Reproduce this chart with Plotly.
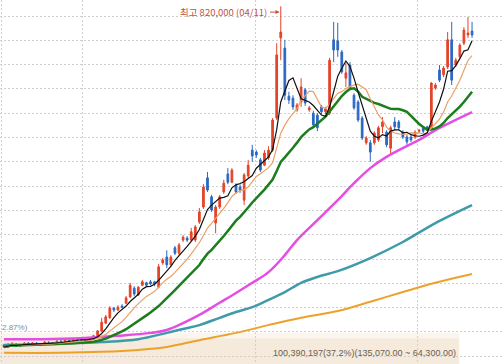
import plotly.graph_objects as go
import pandas as pd

# ---- daily candles (won), oldest -> newest ----
open_ = [123000, 119000, 123000, 125000, 121000, 123000, 127000, 125000, 127000, 123000,
         125000, 127000, 125000, 127000, 131000, 129000, 133000, 131000, 135000, 133000,
         135000, 133000, 137000, 142000, 152000, 168000, 179000, 199000, 195000, 203000,
         209000, 222000, 240000, 226000, 246000, 251000, 253000, 253000, 242000, 292000,
         304000, 288000, 323000, 312000, 339000, 343000, 339000, 339000, 376000, 407000,
         467000, 428000, 374000, 407000, 438000, 475000, 458000, 452000, 448000, 421000,
         471000, 524000, 520000, 504000, 493000, 508000, 524000, 590000, 755000, 734000,
         635000, 631000, 607000, 623000, 648000, 607000, 600000, 596000, 613000, 603000,
         600000, 751000, 749000, 726000, 672000, 699000, 637000, 623000, 590000, 539000,
         539000, 539000, 545000, 572000, 561000, 528000, 582000, 582000, 561000, 551000,
         551000, 551000, 563000, 570000, 572000, 570000, 652000, 689000, 679000, 695000,
         751000, 699000, 716000, 744000, 761000, 769000]
high = [125000, 127000, 129000, 127000, 125000, 129000, 129000, 129000, 129000, 127000,
        131000, 131000, 129000, 133000, 133000, 137000, 135000, 137000, 137000, 137000,
        137000, 139000, 144000, 154000, 179000, 185000, 203000, 201000, 205000, 207000,
        224000, 251000, 244000, 244000, 257000, 253000, 257000, 255000, 290000, 302000,
        318000, 308000, 327000, 333000, 349000, 347000, 364000, 370000, 405000, 454000,
        479000, 432000, 411000, 432000, 463000, 487000, 487000, 456000, 454000, 477000,
        504000, 535000, 524000, 508000, 524000, 532000, 590000, 744000, 820000, 751000,
        644000, 637000, 621000, 672000, 652000, 615000, 605000, 600000, 617000, 613000,
        714000, 788000, 786000, 730000, 703000, 705000, 641000, 627000, 594000, 553000,
        545000, 563000, 574000, 592000, 565000, 574000, 592000, 586000, 565000, 555000,
        555000, 565000, 567000, 572000, 574000, 664000, 662000, 699000, 697000, 767000,
        788000, 714000, 744000, 777000, 798000, 788000]
low = [117000, 117000, 121000, 119000, 119000, 121000, 123000, 121000, 121000, 121000,
       123000, 123000, 123000, 125000, 127000, 127000, 129000, 129000, 131000, 131000,
       131000, 131000, 135000, 140000, 150000, 166000, 177000, 191000, 193000, 199000,
       207000, 220000, 224000, 224000, 244000, 242000, 246000, 244000, 240000, 288000,
       281000, 286000, 308000, 308000, 335000, 335000, 337000, 335000, 372000, 403000,
       438000, 397000, 353000, 403000, 434000, 454000, 456000, 434000, 436000, 411000,
       467000, 500000, 508000, 479000, 491000, 504000, 520000, 586000, 709000, 627000,
       619000, 607000, 603000, 613000, 615000, 603000, 570000, 563000, 598000, 598000,
       596000, 705000, 716000, 681000, 654000, 648000, 607000, 582000, 545000, 535000,
       500000, 535000, 541000, 559000, 530000, 514000, 565000, 565000, 547000, 535000,
       541000, 547000, 559000, 559000, 563000, 565000, 648000, 664000, 674000, 691000,
       658000, 695000, 712000, 740000, 755000, 755000]
close = [119000, 123000, 125000, 121000, 123000, 127000, 125000, 127000, 123000, 125000,
         129000, 125000, 127000, 131000, 129000, 135000, 131000, 135000, 133000, 135000,
         133000, 137000, 142000, 152000, 170000, 181000, 199000, 195000, 201000, 201000,
         220000, 246000, 228000, 242000, 253000, 246000, 249000, 249000, 284000, 298000,
         288000, 304000, 312000, 329000, 345000, 339000, 356000, 366000, 397000, 448000,
         442000, 401000, 407000, 428000, 456000, 458000, 483000, 438000, 442000, 473000,
         493000, 512000, 514000, 483000, 518000, 524000, 586000, 720000, 767000, 637000,
         627000, 613000, 617000, 654000, 621000, 611000, 576000, 570000, 603000, 609000,
         709000, 730000, 730000, 685000, 683000, 652000, 611000, 586000, 549000, 549000,
         520000, 559000, 570000, 582000, 535000, 570000, 572000, 570000, 551000, 541000,
         545000, 561000, 565000, 563000, 565000, 662000, 658000, 668000, 693000, 751000,
         668000, 709000, 740000, 771000, 765000, 761000]
days = list(range(len(close)))

# ---- long moving averages (day index, won) ----
ma60_days = [0, 9, 19, 28, 36, 40, 48, 53, 57, 61, 65, 69, 72, 77, 82, 86, 90, 94, 98, 102, 106, 110, 115]
ma60_vals = [135000, 135000, 137000, 142000, 148000, 154000, 185000, 210000, 230000, 251000, 273000,
             308000, 339000, 380000, 421000, 456000, 487000, 510000, 528000, 545000, 565000, 582000, 602000]
ma120_days = [0, 11, 24, 33, 40, 44, 48, 53, 57, 61, 65, 69, 73, 77, 82, 90, 98, 106, 115]
ma120_vals = [123000, 125000, 129000, 135000, 148000, 156000, 164000, 179000, 191000, 201000, 216000,
              232000, 251000, 263000, 275000, 302000, 335000, 374000, 411000]
ma240_days = [0, 14, 24, 33, 40, 48, 57, 65, 73, 82, 90, 98, 106, 115]
ma240_vals = [107000, 107000, 109000, 113000, 119000, 133000, 148000, 164000, 179000, 193000,
              212000, 232000, 251000, 269000]

high_label = "최고 820,000 (04/11)"
status_text = "100,390,197(37.2%)(135,070.00 ~ 64,300.00)"
low_label = "2.87%)"

RED = "#e2452a"
BLUE = "#2b68c4"
LABEL_RED = "#c8503e"

s = pd.Series(close)
ma5 = s.rolling(5, min_periods=1).mean()
ma10 = s.rolling(10, min_periods=1).mean()
ma20 = s.rolling(20, min_periods=1).mean()

fig = go.Figure()
fig.add_trace(go.Candlestick(
    x=days, open=open_, high=high, low=low, close=close,
    increasing=dict(line=dict(color=RED, width=1), fillcolor=RED),
    decreasing=dict(line=dict(color=BLUE, width=1), fillcolor=BLUE),
    whiskerwidth=0, showlegend=False, hoverinfo="skip"))

def line(x, y, color, width, spline=False):
    fig.add_trace(go.Scatter(x=x, y=y, mode="lines", showlegend=False, hoverinfo="skip",
                             line=dict(color=color, width=width,
                                       shape="spline" if spline else "linear")))

line(ma240_days, ma240_vals, "#eca22a", 2, True)
line(ma120_days, ma120_vals, "#3f9aaa", 2.5, True)
line(ma60_days, ma60_vals, "#e34ee3", 2.5, True)
line(days, ma20, "#1b7d1b", 2.5)
line(days, ma10, "#eba066", 1.2)
line(days, ma5, "#111111", 1.2)

hi_idx = high.index(max(high))
label_y = 808000

fig.update_layout(
    width=504, height=364, margin=dict(l=0, r=0, t=0, b=0),
    paper_bgcolor="white", plot_bgcolor="white", boxgap=0.4, hovermode=False,
    xaxis=dict(range=[-0.98, 122.85], showticklabels=False, zeroline=False,
               tickvals=[-0.5, 19.4, 61.7, 101.7], showgrid=True,
               gridcolor="#cfcfcf", griddash="2px,2px", rangeslider=dict(visible=False),
               showline=False),
    yaxis=dict(range=[83955, 832922], showticklabels=False, zeroline=False,
               tick0=0, dtick=50000, showgrid=True, gridcolor="#cfcfcf",
               griddash="2px,2px", showline=False),
    shapes=[
        dict(type="rect", xref="paper", yref="paper", x0=0, x1=0.911, y0=0.071, y1=0.085,
             fillcolor="#fbf5ee", line=dict(width=0), layer="between"),
        dict(type="rect", xref="paper", yref="paper", x0=0, x1=0.911, y0=0, y1=0.071,
             fillcolor="#f5eadb", line=dict(width=0), layer="between"),
    ],
    annotations=[
        dict(x=hi_idx - 3.0, y=label_y, xref="x", yref="y", text=high_label,
             showarrow=False, xanchor="right", yanchor="middle",
             font=dict(family="Noto Sans CJK KR", size=9.5, color=LABEL_RED)),
        dict(x=hi_idx - 0.3, y=label_y, xref="x", yref="y", text="",
             showarrow=True, ax=-11, ay=0, arrowhead=2, arrowsize=0.8, arrowwidth=1,
             standoff=0, startstandoff=0, arrowcolor=LABEL_RED),
        dict(x=458 / 504, y=0.031, xref="paper", yref="paper", text=status_text,
             showarrow=False, xanchor="right", yanchor="middle",
             font=dict(family="Liberation Sans", size=9, color="#6e5e4e")),
        dict(x=0, y=0.100, xref="paper", yref="paper", text=low_label,
             showarrow=False, xanchor="left", yanchor="middle",
             font=dict(family="Liberation Sans", size=8, color="#8a8a8a")),
    ],
)

fig.write_html("out.html", config={"displayModeBar": False, "staticPlot": True},
               post_script="document.body.style.margin='0';document.body.style.overflow='hidden';")
